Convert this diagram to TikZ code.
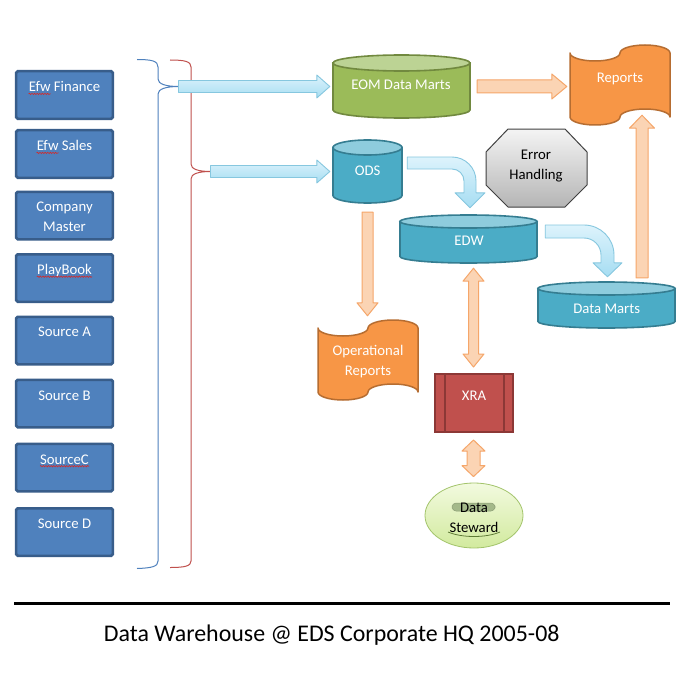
\documentclass[tikz,border=0pt]{standalone}
\usepackage{fontspec}
\setmainfont{Carlito}
\usetikzlibrary{calc,decorations.pathmorphing,shapes.geometric}

\definecolor{srcFill}{HTML}{4F81BD}
\definecolor{srcLine}{HTML}{385D8A}
\definecolor{eomBody}{HTML}{9BBB59}
\definecolor{eomTop}{HTML}{BCD394}
\definecolor{eomLine}{HTML}{71893F}
\definecolor{odsBody}{HTML}{4BACC6}
\definecolor{odsTop}{HTML}{8ECCDD}
\definecolor{odsLine}{HTML}{357D91}
\definecolor{orgFill}{HTML}{F79646}
\definecolor{orgLine}{HTML}{B66D31}
\definecolor{peachFill}{HTML}{FBD4B4}
\definecolor{peachLine}{HTML}{F5A66A}
\definecolor{blueTop}{HTML}{DDF3FC}
\definecolor{blueBot}{HTML}{A6DDF2}
\definecolor{blueLine}{HTML}{86C7DF}
\definecolor{xraFill}{HTML}{C0504D}
\definecolor{xraLine}{HTML}{8C3836}
\definecolor{dsTop}{HTML}{F2FADF}
\definecolor{dsBot}{HTML}{D2EA9E}
\definecolor{dsLine}{HTML}{A3C46B}
\definecolor{pillFill}{HTML}{A4B98A}
\definecolor{pillLine}{HTML}{8A9C74}
\definecolor{dsArc}{HTML}{5E7A35}
\definecolor{errTop}{HTML}{F4F4F4}
\definecolor{errBot}{HTML}{B5B5B5}
\definecolor{errLine}{HTML}{404040}
\definecolor{braceBlue}{HTML}{4F81BD}
\definecolor{braceRed}{HTML}{C0504D}
\definecolor{squigRed}{HTML}{D42A2A}

% cylinder: name, cx, cy, half width, half height, ellipse ry, colour prefix
\newcommand\dbcyl[7]{%
  \pgfmathsetmacro\cxa{#2-#4}%
  \pgfmathsetmacro\cxb{#2+#4}%
  \pgfmathsetmacro\cya{#3-#5+#6}%
  \pgfmathsetmacro\cyb{#3+#5-#6}%
  \draw[fill=#7Body,draw=#7Line,line width=1.6bp] (\cxa,\cya) -- (\cxa,\cyb)
     arc[start angle=180,end angle=360,x radius=#4bp,y radius=#6bp] -- (\cxb,\cya) -- cycle;
  \draw[fill=#7Top,draw=#7Line,line width=1.6bp] (#2,\cya) ellipse[x radius=#4bp,y radius=#6bp];
  \node[inner sep=0pt,minimum width=2*#4bp,minimum height=2*#5bp] (#1) at (#2,#3) {};}

% punched tape: name, x1, y1, x2, y2
\newcommand\tape[5]{%
  \pgfmathsetmacro\tpw{(#4-#2)/4}%
  \pgfmathsetmacro\tph{(#5-#3)/10}%
  \pgfmathsetmacro\tpya{#3+\tph}%
  \pgfmathsetmacro\tpyb{#5-\tph}%
  \draw[tapestyle] (#2,\tpya)
    arc[start angle=180,end angle=360,x radius=\tpw bp,y radius=\tph bp]
    arc[start angle=180,end angle=0,x radius=\tpw bp,y radius=\tph bp]
    -- (#4,\tpyb)
    arc[start angle=0,end angle=180,x radius=\tpw bp,y radius=\tph bp]
    arc[start angle=0,end angle=-180,x radius=\tpw bp,y radius=\tph bp]
    -- cycle;
  \node[inner sep=0pt,minimum width=(#4-#2)*1bp,minimum height=(#5-#3)*1bp] (#1) at ({(#2+#4)/2},{(#3+#5)/2}) {};}

% horizontal block arrow: style, from, to, half shaft, half head, head length
\newcommand\hfat[6]{%
  \draw[#1] ($(#2)+(0,-#4)$) -- ($(#3)+(-#6,-#4)$) -- ($(#3)+(-#6,-#5)$) -- (#3)
    -- ($(#3)+(-#6,#5)$) -- ($(#3)+(-#6,#4)$) -- ($(#2)+(0,#4)$) -- cycle;}

% vertical block arrow: style, from, to, half shaft, half head, signed head length
\newcommand\vfat[6]{%
  \draw[#1] ($(#2)+(-#4,0)$) -- ($(#3)+(-#4,{-(#6)})$) -- ($(#3)+(-#5,{-(#6)})$) -- (#3)
    -- ($(#3)+(#5,{-(#6)})$) -- ($(#3)+(#4,{-(#6)})$) -- ($(#2)+(#4,0)$) -- cycle;}

% vertical double block arrow: style, top, bottom, half shaft, half head, head length
\newcommand\vdbl[6]{%
  \draw[#1] (#2) -- ($(#2)+(#5,#6)$) -- ($(#2)+(#4,#6)$) -- ($(#3)+(#4,-#6)$) -- ($(#3)+(#5,-#6)$)
    -- (#3) -- ($(#3)+(-#5,-#6)$) -- ($(#3)+(-#4,-#6)$) -- ($(#2)+(-#4,#6)$) -- ($(#2)+(-#5,#6)$) -- cycle;}

% bent block arrow (right then down): style, start, tip, half shaft, inner radius, half head, head length
\newcommand\bendarrow[7]{%
  \pgfmathsetmacro\bro{#5+2*#4}%
  \coordinate (bc) at ($(#2 -| #3)+(#4-\bro,\bro-#4)$);
  \draw[#1] ($(#2)+(0,-#4)$) -- ($(bc)+(0,-\bro)$)
    arc[start angle=90,end angle=0,radius=\bro bp]
    -- ($(#3)+(#4,-#7)$) -- ($(#3)+(#6,-#7)$) -- (#3) -- ($(#3)+(-#6,-#7)$) -- ($(#3)+(-#4,-#7)$)
    -- ($(bc)+(#5,0)$) arc[start angle=0,end angle=90,radius=#5bp]
    -- ($(#2)+(0,#4)$) -- cycle;}

\tikzset{
  srcbox/.style={rectangle,fill=srcFill,draw=srcLine,line width=2.5bp,rounded corners=1.5bp,
    minimum width=96.5bp,minimum height=47.5bp,inner sep=0pt},
  wtext/.style={text=white,anchor=base,inner sep=0pt,align=center},
  ktext/.style={text=black,anchor=base,inner sep=0pt,align=center},
  squig/.style={draw=squigRed,line width=0.6bp,decorate,decoration={snake,amplitude=0.7bp,segment length=2.6bp}},
  braceB/.style={draw=braceBlue,line width=1bp},
  braceR/.style={draw=braceRed,line width=1bp},
  tapestyle/.style={fill=orgFill,draw=orgLine,line width=1.5bp,line join=round},
  bluearrow/.style={top color=blueTop,bottom color=blueBot,draw=blueLine,line width=0.9bp,line join=round},
  peacharrow/.style={fill=peachFill,draw=peachLine,line width=1bp,line join=round},
  xrabox/.style={rectangle,fill=xraFill,draw=xraLine,line width=2bp,minimum width=78bp,minimum height=58bp,inner sep=0pt},
  errstyle/.style={top color=errTop,bottom color=errBot,draw=errLine,line width=1bp,line join=round},
}

\begin{document}
\begin{tikzpicture}[x=1bp,y=-1bp,font=\fontsize{14.8}{20}\selectfont]
\useasboundingbox (0,0) rectangle (691,675);
\fill[white] (0,0) rectangle (691,675);

% source boxes
\node[srcbox] (fin) at (64.5,95) {};
\node[wtext] (tfin) at (64.5,91.7) {Efw Finance};
\node[srcbox] (sal) at (64.5,154) {};
\node[wtext] (tsal) at (64.5,150.7) {Efw Sales};
\node[srcbox] (cm) at (64.5,215.5) {};
\node[wtext] (tcm) at (64.5,231.7) {Company\\Master};
\node[srcbox] (pb) at (64.5,278) {};
\node[wtext] (tpb) at (64.5,274.5) {PlayBook};
\node[srcbox] (sa) at (64.5,340.5) {};
\node[wtext] (tsa) at (64.5,336.7) {Source A};
\node[srcbox] (sb) at (64.5,403.5) {};
\node[wtext] (tsb) at (64.5,400) {Source B};
\node[srcbox] (sc) at (64.5,467.5) {};
\node[wtext] (tsc) at (64.5,464) {SourceC};
\node[srcbox] (sd) at (64.5,532) {};
\node[wtext] (tsd) at (64.5,528.7) {Source D};

\draw[squig] ($(tfin.base west)+(0,2.2)$) -- ++(22.3,0);
\draw[squig] ($(tsal.base west)+(0,2.2)$) -- ++(22.3,0);
\draw[squig] ($(tpb.base west)+(0,2.2)$) -- ($(tpb.base east)+(0,2.2)$);
\draw[squig] ($(tsc.base west)+(0,2.2)$) -- ($(tsc.base east)+(0,2.2)$);

% braces
\coordinate (btip) at (178.5,86.5);
\coordinate (rtip) at (210.5,171.5);
\draw[braceB] (137,59.5) .. controls (152,59.5) and (158,61) .. (158,67) -- (158,79)
  .. controls (158,84) and (166,86.5) .. (btip)
  .. controls (166,86.5) and (158,89) .. (158,94) -- (158,561)
  .. controls (158,566.5) and (152,568) .. (137,568.5);
\draw[braceR] (170,60) .. controls (185,60) and (191,61.5) .. (191,67) -- (191,164)
  .. controls (191,169) and (198,171.5) .. (rtip)
  .. controls (198,171.5) and (191,174) .. (191,179) -- (191,561)
  .. controls (191,566) and (185,567.5) .. (170,567.5);

% cylinders
\dbcyl{eom}{401.5}{86.5}{68.5}{31.5}{8}{eom}
\node[wtext] (teom) at (401,90) {EOM Data Marts};
\dbcyl{ods}{367.5}{171.5}{34.5}{31.5}{7.5}{ods}
\node[wtext] (tods) at (367.7,175) {ODS};
\dbcyl{edw}{468.5}{239}{68.5}{24}{6.5}{ods}
\node[wtext] (tedw) at (469,245.7) {EDW};
\dbcyl{dm}{606.5}{305}{68.5}{23}{6.5}{ods}
\node[wtext] (tdm) at (606.7,313.3) {Data Marts};

% reports
\tape{rep}{570}{45}{670}{125}
\node[wtext] (trep) at (620,82.7) {Reports};
\tape{opr}{318}{320}{418}{400}
\node[wtext] (topr) at (368,375) {Operational\\Reports};

% error handling
\draw[errstyle] (508,129) -- (565,129) -- (587,152) -- (587,185) -- (565,207) -- (508,207) -- (486,185) -- (486,152) -- cycle;
\node[ktext] (err) at (536,179.3) {Error\\Handling};

% XRA
\node[xrabox] (xra) at (474,403) {};
\draw[draw=xraLine,line width=2bp] ($(xra.north west)+(11,0)$) -- ($(xra.south west)+(11,0)$);
\draw[draw=xraLine,line width=2bp] ($(xra.north east)+(-10,0)$) -- ($(xra.south east)+(-10,0)$);
\node[wtext] (txra) at (474,400) {XRA};

% Data Steward
\node[ellipse,minimum width=98bp,minimum height=65bp,top color=dsTop,bottom color=dsBot,draw=dsLine,line width=0.8bp,inner sep=0pt] (ds) at (474,515.5) {};
\draw[fill=pillFill,draw=pillLine,line width=0.5bp,rounded corners=4bp] (452,503) rectangle (495,511);
\draw[draw=dsArc,line width=0.8bp] (448,532) .. controls (462,538) and (486,538) .. (500,532);
\node[ktext] (tds) at (474,532.3) {Data\\Steward};

% arrows
\coordinate (eomtip) at ($(eom.west)+(-3,0)$);
\coordinate (odstip) at ($(ods.west)+(-3,0)$);
\hfat{bluearrow}{btip}{eomtip}{6}{11.5}{13}
\hfat{bluearrow}{rtip}{odstip}{6}{11.5}{13}

\coordinate (o1s) at ($(eom.east)+(7,0)$);
\coordinate (o1e) at ($(rep.west |- eom.east)+(-3,0)$);
\hfat{peacharrow}{o1s}{o1e}{6.5}{12.5}{15}

\coordinate (o2s) at ($(ods.south)+(0,9)$);
\coordinate (o2e) at ($(ods.south |- opr.north)+(0,-4)$);
\vfat{peacharrow}{o2s}{o2e}{5.5}{10.5}{13}

\coordinate (o3s) at ($(dm.north)+(35.5,-4)$);
\coordinate (o3e) at ($(rep.south)+(22,-10)$);
\vfat{peacharrow}{o3s}{o3e}{6}{12.5}{-13}

\coordinate (d1a) at ($(xra.north |- edw.south)+(-0.5,5)$);
\coordinate (d1b) at ($(xra.north)+(-0.5,-6)$);
\vdbl{peacharrow}{d1a}{d1b}{5}{10.5}{13}

\coordinate (d2a) at ($(xra.south)+(-0.5,7)$);
\coordinate (d2b) at ($(ds.north)+(-0.5,-6)$);
\vdbl{peacharrow}{d2a}{d2b}{6.5}{11.5}{11}

\coordinate (c1s) at ($(ods.east)+(5,-8.5)$);
\coordinate (c1e) at ($(edw.north)+(1.5,-7)$);
\bendarrow{bluearrow}{c1s}{c1e}{6}{12}{15}{15}

\coordinate (c2s) at ($(edw.east)+(8,-7.5)$);
\coordinate (c2e) at ($(dm.north)+(1,-5)$);
\bendarrow{bluearrow}{c2s}{c2e}{6.5}{17}{14.5}{14}

% title
\coordinate (ruleL) at (14,603);
\coordinate (ruleR) at (670,603);
\draw[line width=3bp] (ruleL) -- (ruleR);
\node[anchor=base,inner sep=0pt,font=\fontsize{24}{28}\selectfont] (title) at (331.7,641.7) {Data Warehouse @ EDS Corporate HQ 2005-08};
\end{tikzpicture}
\end{document}
